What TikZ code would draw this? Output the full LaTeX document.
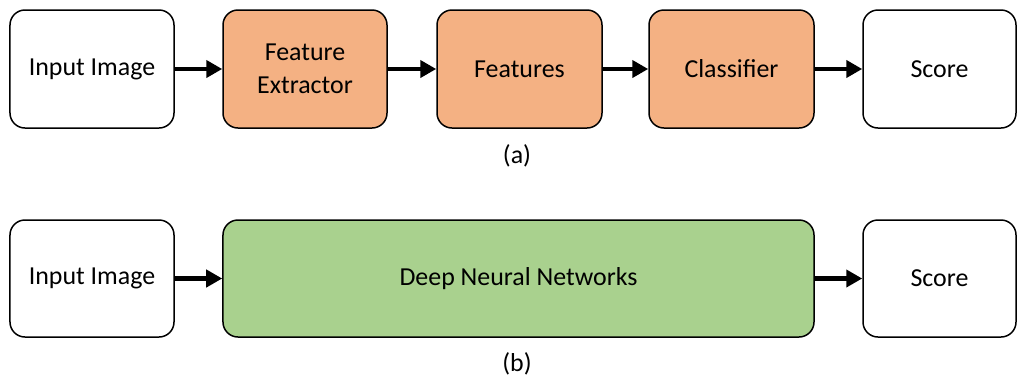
\documentclass[tikz,border=0pt]{standalone}
\usepackage{fontspec}
\setmainfont{Carlito}
\usetikzlibrary{arrows.meta}
\definecolor{orangefill}{HTML}{F4B183}
\definecolor{greenfill}{HTML}{A9D18E}
\begin{document}
\begin{tikzpicture}[x=1bp,y=-1bp,
  box/.style={draw=black, line width=1.5bp, rounded corners=15bp, inner sep=0pt,
    align=center, font=\fontsize{26}{33}\selectfont},
  flow/.style={line width=4.5bp, -{Triangle[length=16bp,width=17bp]}},
  caption/.style={font=\fontsize{26}{31}\selectfont}]
\useasboundingbox (0,0) rectangle (1018,378);
% (a) pipeline with hand-crafted features
\node[box, minimum width=164bp, minimum height=118bp] (in1) at (92,69) {Input Image};
\node[box, fill=orangefill, minimum width=164bp, minimum height=118bp] (fe) at (305,69) {Feature\\Extractor};
\node[box, fill=orangefill, minimum width=165bp, minimum height=118bp] (feat) at (519.5,69) {Features};
\node[box, fill=orangefill, minimum width=165bp, minimum height=118bp] (cls) at (731.5,69) {Classifier};
\node[box, minimum width=153bp, minimum height=118bp] (sc1) at (939.5,69) {Score};
\draw[flow] (in1) -- (fe);
\draw[flow] (fe) -- (feat);
\draw[flow] (feat) -- (cls);
\draw[flow] (cls) -- (sc1);
\node[caption] (capa) at (517,156) {(a)};
% (b) end-to-end deep network
\node[box, minimum width=164bp, minimum height=117bp] (in2) at (92,278.5) {Input Image};
\node[box, fill=greenfill, minimum width=591bp, minimum height=117bp] (dnn) at (518.5,278.5) {Deep Neural Networks};
\node[box, minimum width=153bp, minimum height=117bp] (sc2) at (939.5,278.5) {Score};
\draw[flow] (in2) -- (dnn);
\draw[flow] (dnn) -- (sc2);
\node[caption] (capb) at (517,364) {(b)};
\end{tikzpicture}
\end{document}
